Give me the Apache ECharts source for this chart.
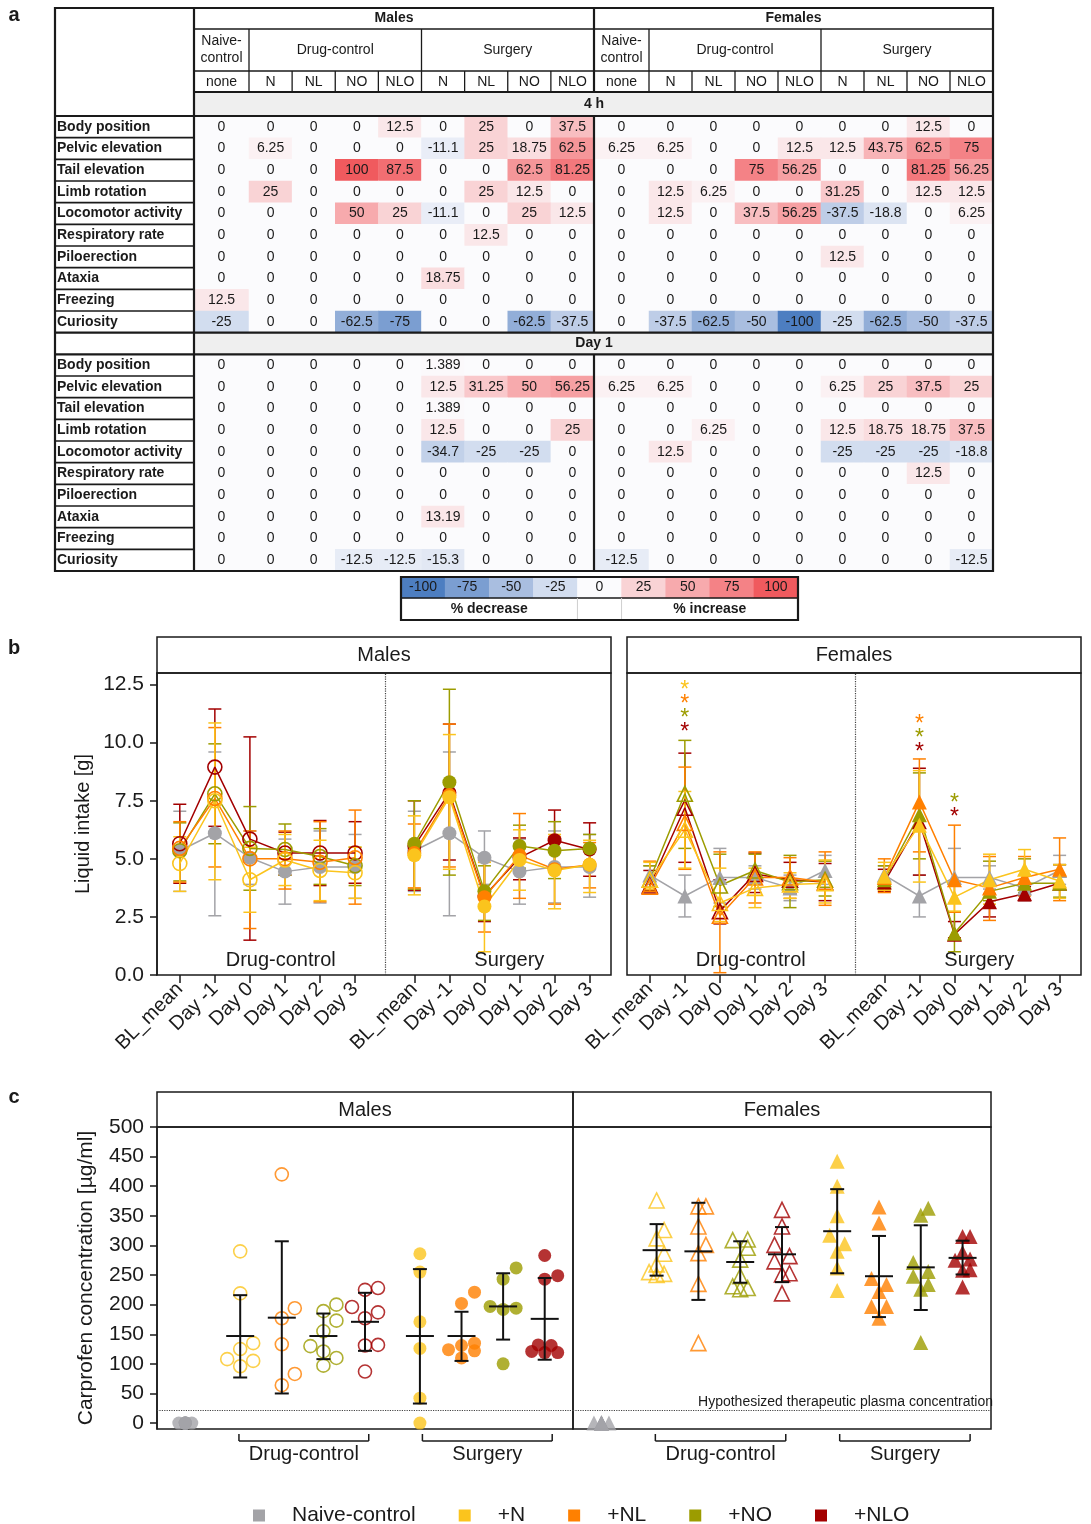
<!DOCTYPE html>
<html>
<head>
<meta charset="utf-8">
<script src="https://cdn.jsdelivr.net/npm/echarts@6/dist/echarts.min.js"></script>
<style>
  html, body { margin: 0; padding: 0; background: #fff; }
  #chart { width: 1091px; height: 1524px; }
</style>
</head>
<body>
<div id="chart"></div>
<script>
  /* ---------- panel a : behaviour scores (% change) ---------- */
  var rowNames = ['Body position', 'Pelvic elevation', 'Tail elevation', 'Limb rotation', 'Locomotor activity',
    'Respiratory rate', 'Piloerection', 'Ataxia', 'Freezing', 'Curiosity'];
  var colGroups = ['Naive-\ncontrol', 'Drug-control', 'Surgery'];
  var subCols = ['none', 'N', 'NL', 'NO', 'NLO', 'N', 'NL', 'NO', 'NLO'];

  var males4h = [
    [0, 0, 0, 0, 12.5, 0, 25, 0, 37.5],
    [0, 6.25, 0, 0, 0, -11.1, 25, 18.75, 62.5],
    [0, 0, 0, 100, 87.5, 0, 0, 62.5, 81.25],
    [0, 25, 0, 0, 0, 0, 25, 12.5, 0],
    [0, 0, 0, 50, 25, -11.1, 0, 25, 12.5],
    [0, 0, 0, 0, 0, 0, 12.5, 0, 0],
    [0, 0, 0, 0, 0, 0, 0, 0, 0],
    [0, 0, 0, 0, 0, 18.75, 0, 0, 0],
    [12.5, 0, 0, 0, 0, 0, 0, 0, 0],
    [-25, 0, 0, -62.5, -75, 0, 0, -62.5, -37.5]
  ];
  var females4h = [
    [0, 0, 0, 0, 0, 0, 0, 12.5, 0],
    [6.25, 6.25, 0, 0, 12.5, 12.5, 43.75, 62.5, 75],
    [0, 0, 0, 75, 56.25, 0, 0, 81.25, 56.25],
    [0, 12.5, 6.25, 0, 0, 31.25, 0, 12.5, 12.5],
    [0, 12.5, 0, 37.5, 56.25, -37.5, -18.8, 0, 6.25],
    [0, 0, 0, 0, 0, 0, 0, 0, 0],
    [0, 0, 0, 0, 0, 12.5, 0, 0, 0],
    [0, 0, 0, 0, 0, 0, 0, 0, 0],
    [0, 0, 0, 0, 0, 0, 0, 0, 0],
    [0, -37.5, -62.5, -50, -100, -25, -62.5, -50, -37.5]
  ];
  var malesDay1 = [
    [0, 0, 0, 0, 0, 1.389, 0, 0, 0],
    [0, 0, 0, 0, 0, 12.5, 31.25, 50, 56.25],
    [0, 0, 0, 0, 0, 1.389, 0, 0, 0],
    [0, 0, 0, 0, 0, 12.5, 0, 0, 25],
    [0, 0, 0, 0, 0, -34.7, -25, -25, 0],
    [0, 0, 0, 0, 0, 0, 0, 0, 0],
    [0, 0, 0, 0, 0, 0, 0, 0, 0],
    [0, 0, 0, 0, 0, 13.19, 0, 0, 0],
    [0, 0, 0, 0, 0, 0, 0, 0, 0],
    [0, 0, 0, -12.5, -12.5, -15.3, 0, 0, 0]
  ];
  var femalesDay1 = [
    [0, 0, 0, 0, 0, 0, 0, 0, 0],
    [6.25, 6.25, 0, 0, 0, 6.25, 25, 37.5, 25],
    [0, 0, 0, 0, 0, 0, 0, 0, 0],
    [0, 0, 6.25, 0, 0, 12.5, 18.75, 18.75, 37.5],
    [0, 12.5, 0, 0, 0, -25, -25, -25, -18.8],
    [0, 0, 0, 0, 0, 0, 0, 12.5, 0],
    [0, 0, 0, 0, 0, 0, 0, 0, 0],
    [0, 0, 0, 0, 0, 0, 0, 0, 0],
    [0, 0, 0, 0, 0, 0, 0, 0, 0],
    [-12.5, 0, 0, 0, 0, 0, 0, 0, -12.5]
  ];
  var keySteps = [-100, -75, -50, -25, 0, 25, 50, 75, 100];

  /* ---------- panel b : liquid intake [g], mean / lower / upper ---------- */
  var timePoints = ['BL_mean', 'Day -1', 'Day 0', 'Day 1', 'Day 2', 'Day 3'];
  var groups = ['Naive-control', '+N', '+NL', '+NO', '+NLO'];

  var maleDrugMean = [
    [5.35, 6.1, 5.05, 4.45, 4.65, 4.65],
    [4.8, 7.5, 4.1, 4.95, 4.5, 4.4],
    [5.45, 7.6, 5.0, 5.0, 4.85, 5.05],
    [5.35, 7.8, 5.45, 5.4, 5.1, 4.7],
    [5.65, 8.95, 5.85, 5.25, 5.25, 5.25]
  ];
  var maleDrugLow = [
    [3.6, 2.55, 3.9, 3.05, 3.1, 3.3],
    [3.6, 4.1, 2.7, 3.85, 3.2, 3.3],
    [4.0, 4.65, 2.0, 3.7, 3.15, 3.05],
    [4.05, 5.65, 3.65, 4.3, 3.9, 3.85],
    [3.95, 6.4, 1.5, 4.3, 3.85, 3.95]
  ];
  var maleDrugHigh = [
    [7.05, 9.6, 6.2, 5.85, 6.2, 6.05],
    [5.95, 10.85, 5.5, 6.05, 5.8, 5.5],
    [6.6, 10.65, 6.2, 6.2, 6.6, 7.1],
    [6.55, 9.95, 7.25, 6.5, 6.3, 5.5],
    [7.35, 11.45, 10.25, 6.15, 6.65, 6.6]
  ];
  var maleSurgMean = [
    [5.35, 6.1, 5.05, 4.45, 4.65, 4.65],
    [5.15, 7.65, 2.95, 4.95, 4.5, 4.75],
    [5.25, 7.75, 3.35, 5.15, 4.55, 4.75],
    [5.65, 8.3, 3.6, 5.55, 5.35, 5.45],
    [5.55, 7.85, 3.4, 5.05, 5.8, 5.4]
  ];
  var maleSurgLow = [
    [3.6, 2.55, 3.9, 3.05, 3.1, 3.35],
    [3.45, 4.55, 1.0, 3.65, 2.85, 3.55],
    [3.75, 4.65, 1.85, 3.3, 3.05, 3.75],
    [3.7, 4.3, 2.35, 4.6, 4.15, 4.8],
    [3.65, 4.95, 2.3, 4.1, 4.5, 4.25]
  ];
  var maleSurgHigh = [
    [7.05, 9.6, 6.2, 5.85, 6.2, 6.05],
    [6.85, 10.35, 4.85, 6.25, 6.05, 5.8],
    [6.5, 10.8, 4.85, 6.95, 5.95, 5.7],
    [7.5, 12.3, 4.7, 6.45, 6.6, 6.05],
    [7.5, 10.8, 4.95, 5.9, 7.1, 6.55]
  ];
  var femaleDrugMean = [
    [4.3, 3.4, 4.2, 4.2, 3.75, 4.5],
    [4.1, 6.25, 3.1, 3.75, 3.9, 3.95],
    [3.8, 6.55, 2.55, 4.2, 4.2, 4.0],
    [4.1, 7.8, 3.85, 4.5, 4.0, 4.1],
    [3.85, 7.2, 2.75, 4.35, 4.1, 4.0]
  ];
  var femaleDrugLow = [
    [3.9, 2.5, 3.1, 3.7, 3.2, 3.9],
    [3.7, 4.6, 2.3, 2.9, 3.3, 3.1],
    [3.6, 4.55, 0.1, 3.1, 3.3, 3.0],
    [3.6, 5.45, 2.95, 3.95, 2.9, 3.4],
    [3.65, 4.85, 2.2, 3.55, 3.5, 3.2]
  ];
  var femaleDrugHigh = [
    [4.7, 4.3, 5.45, 4.7, 4.3, 5.15],
    [4.85, 7.9, 4.6, 4.6, 4.4, 4.95],
    [4.9, 8.95, 5.3, 5.3, 5.05, 5.3],
    [4.7, 10.1, 5.2, 5.2, 5.15, 4.9],
    [4.5, 9.55, 4.1, 5.25, 4.85, 4.8]
  ];
  var femaleSurgMean = [
    [4.3, 3.4, 4.2, 4.2, 3.75, 4.5],
    [4.25, 6.45, 3.35, 4.1, 4.55, 4.05],
    [4.2, 7.45, 4.1, 3.75, 4.2, 4.55],
    [4.1, 6.9, 1.8, 3.6, 3.95, 3.95],
    [4.0, 6.6, 1.75, 3.15, 3.5, 3.95]
  ];
  var femaleSurgLow = [
    [3.9, 2.5, 3.1, 3.7, 3.2, 3.9],
    [3.65, 4.0, 2.75, 3.05, 3.65, 3.3],
    [3.55, 5.3, 2.7, 2.35, 3.4, 3.2],
    [3.7, 5.0, 1.0, 3.2, 3.55, 3.35],
    [3.6, 4.3, 1.6, 2.5, 3.2, 3.7]
  ];
  var femaleSurgHigh = [
    [4.7, 4.3, 5.45, 4.7, 4.3, 5.15],
    [4.85, 8.8, 4.0, 5.2, 5.4, 4.75],
    [5.0, 9.3, 6.45, 5.1, 5.1, 5.9],
    [4.7, 8.7, 2.7, 4.9, 5.0, 4.75],
    [4.55, 8.9, 2.3, 3.5, 3.8, 4.75]
  ];
  // [segment, time point, group, height of the star]
  var femaleStars = [
    [0, 1, 1, 12.45], [0, 1, 2, 11.85], [0, 1, 3, 11.25], [0, 1, 4, 10.65],
    [1, 1, 2, 11.0], [1, 1, 3, 10.4], [1, 1, 4, 9.8], [1, 2, 3, 7.6], [1, 2, 4, 7.0]
  ];

  /* ---------- panel c : carprofen concentration [µg/ml] ---------- */
  var maleNaiveConc = [0, 0, 0, 0, 0, 0, 0, 0];
  var maleDrugConc = [
    [290, 219, 135, 125, 108, 105, 96],
    [420, 194, 177, 133, 83, 64],
    [200, 189, 173, 155, 130, 121, 110, 97],
    [228, 225, 196, 187, 177, 132, 131, 87]
  ];
  var maleSurgConc = [
    [286, 255, 171, 126, 42, 0],
    [221, 202, 135, 131, 124, 122, 110],
    [262, 243, 197, 194, 192, 100],
    [283, 249, 243, 132, 131, 121, 119, 119]
  ];
  var femaleNaiveConc = [0, 0, 0, 0, 0, 0, 0, 0];
  var femaleDrugConc = [
    [376, 326, 312, 286, 268, 255, 252, 250],
    [366, 366, 332, 301, 287, 235, 135],
    [310, 309, 296, 276, 248, 231, 228, 226],
    [360, 332, 301, 282, 273, 253, 251, 219]
  ];
  var femaleSurgConc = [
    [442, 400, 350, 317, 303, 290, 262, 224],
    [365, 338, 244, 234, 222, 197, 197, 177],
    [363, 351, 271, 256, 248, 234, 226, 136],
    [315, 315, 288, 277, 275, 259, 258, 230]
  ];
  // [mean, lower, upper]
  var maleDrugStats = [[147, 77, 216], [178, 50, 307], [147, 108, 185], [171, 122, 220]];
  var maleSurgStats = [[147, 33, 260], [147, 105, 188], [197, 141, 253], [176, 107, 245]];
  var femaleDrugStats = [[292, 249, 336], [290, 208, 372], [272, 237, 307], [285, 238, 331]];
  var femaleSurgStats = [[324, 253, 395], [248, 179, 316], [263, 191, 334], [279, 251, 308]];
  var therapeuticLevel = 21;

  /* ---------- styling ---------- */
  var FONT = '"Liberation Sans", Arial, Helvetica, sans-serif';
  var INK = '#1a1a1a';
  var groupColors = ['#a3a3a7', '#fbc41d', '#ff8000', '#9c9c00', '#a30000'];
  var heatColors = ['#4d7ec1', '#a9bee0', '#fbfbfd', '#f7aaad', '#f05a5e'];

  var chart = echarts.init(document.getElementById('chart'), null, {width: 1091, height: 1524});
  var grids = [], xAxes = [], yAxes = [], series = [];
  var i, j;

  /* ===== panel a: table ===== */
  var T = {left: 55, labelR: 194, right: 993, top: 8, r1: 29, r2: 71, r3: 92, body: 116, bottom: 571};
  var rowH = (T.bottom - T.body) / 21;
  var mEdges = [194, 249], fEdges = [594, 649];
  for (i = 1; i <= 8; i++) {
    mEdges.push(249 + i * (594 - 249) / 8);
    fEdges.push(649 + i * (993 - 649) / 8);
  }
  var blocks = [[mEdges[0], mEdges[1]], [mEdges[1], mEdges[9]], [fEdges[0], fEdges[1]], [fEdges[1], fEdges[9]]];
  var rowIdx = [];
  for (i = 0; i < 21; i++) rowIdx.push(String(i));

  function cells(a4, a1, from, to) {
    var out = [];
    for (var r = 0; r < rowNames.length; r++) {
      for (var c = from; c < to; c++) {
        out.push([c - from, r, a4[r][c]]);
        out.push([c - from, r + 11, a1[r][c]]);
      }
    }
    return out;
  }

  blocks.forEach(function (b, k) {
    var n = k % 2 === 0 ? 1 : 8;
    var xs = [];
    for (var q = 0; q < n; q++) xs.push(String(q));
    grids.push({left: b[0], top: T.body, width: b[1] - b[0], height: T.bottom - T.body, outerBoundsMode: 'none'});
    xAxes.push({type: 'category', gridIndex: k, data: xs, show: false});
    yAxes.push({
      type: 'category', gridIndex: k, data: rowIdx, inverse: true, show: k === 0,
      axisLine: {show: false}, axisTick: {show: false}, splitLine: {show: false},
      axisLabel: {
        interval: 0, align: 'left', margin: 137, fontSize: 14, fontWeight: 'bold', color: INK,
        formatter: function (v) {
          var r = +v;
          return r < 10 ? rowNames[r] : (r === 10 ? '' : rowNames[r - 11]);
        }
      }
    });
    var male = k < 2;
    series.push({
      type: 'heatmap', xAxisIndex: k, yAxisIndex: k,
      data: cells(male ? males4h : females4h, male ? malesDay1 : femalesDay1, k % 2 === 0 ? 0 : 1, k % 2 === 0 ? 1 : 9),
      label: {show: true, fontSize: 14, color: INK, formatter: function (p) { return String(p.value[2]); }},
      itemStyle: {borderWidth: 0},
      emphasis: {disabled: true}
    });
  });

  // colour key
  var K = {l: 401, r: 798, t: 577, m: 598, b: 620};
  grids.push({left: K.l, top: K.t, width: K.r - K.l, height: K.m - K.t, outerBoundsMode: 'none'});
  xAxes.push({type: 'category', gridIndex: 4, data: keySteps.map(String), show: false});
  yAxes.push({type: 'category', gridIndex: 4, data: ['k'], show: false});
  series.push({
    type: 'heatmap', xAxisIndex: 4, yAxisIndex: 4,
    data: keySteps.map(function (v, q) { return [q, 0, v]; }),
    label: {show: true, fontSize: 14, color: INK, formatter: function (p) { return String(p.value[2]); }},
    itemStyle: {borderWidth: 0},
    emphasis: {disabled: true}
  });

  /* ===== panel b: liquid intake ===== */
  var B = {xMin: -0.65, xMax: 12.3, segGap: 6.69};
  var bTicks = [];
  for (i = 0; i < 12; i++) bTicks.push(i < 6 ? i : B.segGap + i - 6);
  function bx(seg, t) { return seg * B.segGap + t; }
  function bLabel(v) {
    for (var q = 0; q < bTicks.length; q++) if (Math.abs(bTicks[q] - v) < 0.01) return timePoints[q % 6];
    return '';
  }
  var yTicksB = [0, 2.5, 5, 7.5, 10, 12.5];

  [157, 627].forEach(function (left, s) {
    var gi = 5 + s;
    grids.push({left: left, top: 673, width: 454, height: 302, show: true, borderColor: INK, borderWidth: 1.5, outerBoundsMode: 'none'});
    xAxes.push({
      type: 'value', gridIndex: gi, min: B.xMin, max: B.xMax,
      axisLine: {show: false, onZero: false}, splitLine: {show: false},
      axisTick: {show: true, customValues: bTicks, length: 8, lineStyle: {color: INK, width: 1.5}},
      axisLabel: {customValues: bTicks, rotate: 45, fontSize: 20, color: INK, margin: 11, formatter: bLabel}
    });
    yAxes.push(s === 0 ? {
      type: 'value', gridIndex: gi, min: 0, max: 13, splitLine: {show: false},
      axisLine: {show: true, onZero: false, lineStyle: {color: INK, width: 1.5}},
      axisTick: {show: true, customValues: yTicksB, length: 7, lineStyle: {color: INK, width: 1.5}},
      axisLabel: {customValues: yTicksB, fontSize: 21, color: INK, margin: 13, formatter: function (v) { return v.toFixed(1); }},
      name: 'Liquid intake [g]', nameLocation: 'middle', nameGap: 64,
      nameTextStyle: {fontSize: 20, color: INK}
    } : {type: 'value', gridIndex: gi, min: 0, max: 13, show: false});
  });

  function errBars(name, data, color, gi, capW, lw, z) {
    return {
      type: 'custom', name: name, xAxisIndex: gi, yAxisIndex: gi, data: data, z: z,
      encode: {x: 0, y: [1, 2]}, silent: true,
      renderItem: function (params, api) {
        var x = api.value(0);
        var lo = api.coord([x, api.value(1)]), hi = api.coord([x, api.value(2)]);
        var h = capW / 2, st = {stroke: color, lineWidth: lw};
        return {
          type: 'group', children: [
            {type: 'line', shape: {x1: lo[0], y1: lo[1], x2: hi[0], y2: hi[1]}, style: st},
            {type: 'line', shape: {x1: lo[0] - h, y1: lo[1], x2: lo[0] + h, y2: lo[1]}, style: st},
            {type: 'line', shape: {x1: hi[0] - h, y1: hi[1], x2: hi[0] + h, y2: hi[1]}, style: st}
          ]
        };
      }
    };
  }

  function markerStyle(color, hollow) {
    return hollow ? {color: 'rgba(255,255,255,0)', borderColor: color, borderWidth: 1.6}
      : {color: color, borderColor: color, borderWidth: 0};
  }

  var bSets = [
    {gi: 5, sym: 'circle', size: 14, segs: [[maleDrugMean, maleDrugLow, maleDrugHigh], [maleSurgMean, maleSurgLow, maleSurgHigh]]},
    {gi: 6, sym: 'triangle', size: 15, segs: [[femaleDrugMean, femaleDrugLow, femaleDrugHigh], [femaleSurgMean, femaleSurgLow, femaleSurgHigh]]}
  ];
  var drawOrder = [0, 4, 3, 2, 1];
  bSets.forEach(function (set) {
    set.segs.forEach(function (sg, s) {
      drawOrder.forEach(function (g) {
        var color = groupColors[g];
        series.push(errBars(groups[g], timePoints.map(function (t, q) {
          return [bx(s, q), sg[1][g][q], sg[2][g][q]];
        }), color, set.gi, 13, 1.5, 2));
      });
      drawOrder.forEach(function (g) {
        var color = groupColors[g];
        var line = {
          type: 'line', name: groups[g], xAxisIndex: set.gi, yAxisIndex: set.gi, z: 3,
          data: timePoints.map(function (t, q) { return [bx(s, q), sg[0][g][q]]; }),
          symbol: set.sym, symbolSize: set.size, showSymbol: true,
          lineStyle: {color: color, width: 1.5},
          itemStyle: markerStyle(color, s === 0 && g !== 0),
          emphasis: {disabled: true}, silent: true
        };
        if (g === 0 && s === 0) {
          line.markLine = {
            silent: true, symbol: ['none', 'none'], label: {show: false},
            lineStyle: {type: 'dotted', color: '#444', width: 1.2},
            data: [{xAxis: (5 + B.segGap) / 2}]
          };
        }
        series.push(line);
      });
    });
  });

  series.push({
    type: 'custom', xAxisIndex: 6, yAxisIndex: 6, z: 4, silent: true,
    data: femaleStars.map(function (st) { return [bx(st[0], st[1]), st[3], st[2]]; }),
    encode: {x: 0, y: 1},
    renderItem: function (params, api) {
      var p = api.coord([api.value(0), api.value(1)]);
      return {
        type: 'text', x: p[0], y: p[1] + 5,
        style: {text: '*', fill: groupColors[api.value(2)], fontSize: 23, fontFamily: FONT, align: 'center', verticalAlign: 'middle'}
      };
    }
  });

  /* ===== panel c: carprofen ===== */
  var C = {yMin: -10, yMax: 500, xMax: 10, naiveX: 0.68, drugX: 2, surgX: 6.32};
  var yTicksC = [];
  for (i = 0; i <= 500; i += 50) yTicksC.push(i);

  function swarm(vals, xPx, yPx, diam, maxOff) {
    var order = vals.map(function (v, q) { return q; }).sort(function (a, b) { return vals[a] - vals[b]; });
    var placed = [], offs = [];
    var step = diam / 2;
    order.forEach(function (q) {
      var y = vals[q] * yPx, best = 0, bestD = -1;
      for (var k = 0; k < 30; k++) {
        var o = (k % 2 ? 1 : -1) * Math.ceil(k / 2) * step;
        if (Math.abs(o) > maxOff) break;
        var dmin = Infinity;
        placed.forEach(function (p) {
          var d = Math.sqrt((p[0] - o) * (p[0] - o) + (p[1] - y) * (p[1] - y));
          if (d < dmin) dmin = d;
        });
        if (dmin >= diam) { best = o; break; }
        if (dmin > bestD) { bestD = dmin; best = o; }
      }
      placed.push([best, y]);
      offs[q] = best / xPx;
    });
    return offs;
  }

  var cSets = [
    {gi: 7, left: 157, width: 416, sym: 'circle', size: 13, naive: maleNaiveConc,
      segs: [[maleDrugConc, maleDrugStats], [maleSurgConc, maleSurgStats]]},
    {gi: 8, left: 573, width: 418, sym: 'triangle', size: 15, naive: femaleNaiveConc,
      segs: [[femaleDrugConc, femaleDrugStats], [femaleSurgConc, femaleSurgStats]]}
  ];

  cSets.forEach(function (set, s) {
    grids.push({left: set.left, top: 1127, width: set.width, height: 302, show: true, borderColor: INK, borderWidth: 1.5, outerBoundsMode: 'none'});
    xAxes.push({type: 'value', gridIndex: set.gi, min: 0, max: C.xMax, show: false});
    yAxes.push(s === 0 ? {
      type: 'value', gridIndex: set.gi, min: C.yMin, max: C.yMax, splitLine: {show: false},
      axisLine: {show: true, onZero: false, lineStyle: {color: INK, width: 1.5}},
      axisTick: {show: true, customValues: yTicksC, length: 7, lineStyle: {color: INK, width: 1.5}},
      axisLabel: {customValues: yTicksC, fontSize: 21, color: INK, margin: 13},
      name: 'Carprofen concentration [µg/ml]', nameLocation: 'middle', nameGap: 60,
      nameTextStyle: {fontSize: 21, color: INK}
    } : {type: 'value', gridIndex: set.gi, min: C.yMin, max: C.yMax, show: false});

    var xPx = set.width / C.xMax, yPx = 302 / (C.yMax - C.yMin);
    var diam = set.size;

    var nOff = swarm(set.naive, xPx, yPx, diam, 8);
    series.push({
      type: 'scatter', name: groups[0], xAxisIndex: set.gi, yAxisIndex: set.gi, z: 3, silent: true,
      symbol: set.sym, symbolSize: set.size,
      itemStyle: markerStyle(groupColors[0], false),
      data: set.naive.map(function (v, q) { return [C.naiveX + nOff[q], v]; }),
      markLine: {
        silent: true, symbol: ['none', 'none'],
        lineStyle: {type: 'dotted', color: '#444', width: 1.2},
        label: s === 1 ? {
          show: true, position: 'insideEndTop', formatter: 'Hypothesized therapeutic plasma concentration',
          fontSize: 14, color: INK, distance: [-2, 2]
        } : {show: false},
        data: [{yAxis: therapeuticLevel}]
      }
    });

    set.segs.forEach(function (sg, seg) {
      var x0 = seg === 0 ? C.drugX : C.surgX;
      sg[0].forEach(function (vals, g) {
        var off = swarm(vals, xPx, yPx, diam, 14);
        series.push({
          type: 'scatter', name: groups[g + 1], xAxisIndex: set.gi, yAxisIndex: set.gi, z: 3, silent: true,
          symbol: set.sym, symbolSize: set.size,
          itemStyle: markerStyle(groupColors[g + 1], seg === 0),
          data: vals.map(function (v, q) { return [x0 + g + off[q], v]; })
        });
      });
      series.push({
        type: 'custom', xAxisIndex: set.gi, yAxisIndex: set.gi, z: 5, silent: true,
        data: sg[1].map(function (st, g) { return [x0 + g, st[0], st[1], st[2]]; }),
        encode: {x: 0, y: [1, 2, 3]},
        renderItem: function (params, api) {
          var x = api.value(0);
          var m = api.coord([x, api.value(1)]), lo = api.coord([x, api.value(2)]), hi = api.coord([x, api.value(3)]);
          var st = {stroke: '#111', lineWidth: 2};
          return {
            type: 'group', children: [
              {type: 'line', shape: {x1: lo[0], y1: lo[1], x2: hi[0], y2: hi[1]}, style: st},
              {type: 'line', shape: {x1: lo[0] - 7, y1: lo[1], x2: lo[0] + 7, y2: lo[1]}, style: st},
              {type: 'line', shape: {x1: hi[0] - 7, y1: hi[1], x2: hi[0] + 7, y2: hi[1]}, style: st},
              {type: 'line', shape: {x1: m[0] - 14, y1: m[1], x2: m[0] + 14, y2: m[1]}, style: st}
            ]
          };
        }
      });
    });
  });

  var option = {
    animation: false,
    backgroundColor: '#fff',
    textStyle: {fontFamily: FONT},
    grid: grids,
    xAxis: xAxes,
    yAxis: yAxes,
    visualMap: {
      type: 'continuous', show: false, min: -100, max: 100, dimension: 2,
      seriesIndex: [0, 1, 2, 3, 4], inRange: {color: heatColors}
    },
    legend: {
      left: 248, top: 1500, itemWidth: 12, itemHeight: 12, itemGap: 43, selectedMode: false,
      textStyle: {fontSize: 21, color: INK, padding: [0, 0, 0, 22]},
      data: groups.map(function (g, q) {
        return {name: g, icon: 'rect', itemStyle: {color: groupColors[q], borderWidth: 0}};
      })
    },
    series: series
  };
  chart.setOption(option);

  /* ===== table frame, headers and panel decorations ===== */
  var G = [];
  function L(x1, y1, x2, y2, w, c) {
    G.push({type: 'line', silent: true, z: 100, shape: {x1: x1, y1: y1, x2: x2, y2: y2}, style: {stroke: c || INK, lineWidth: w || 1.5}});
  }
  function box(x, y, w, h, lw, fill, z) {
    G.push({type: 'rect', silent: true, z: z || 100, shape: {x: x, y: y, width: w, height: h},
      style: {fill: fill || 'none', stroke: lw ? INK : 'none', lineWidth: lw || 0}});
  }
  function TX(x, y, s, size, weight, align) {
    G.push({type: 'text', silent: true, z: 101, x: x, y: y, style: {
      text: s, fill: INK, fontSize: size || 14, fontWeight: weight || 'normal', fontFamily: FONT,
      align: align || 'center', verticalAlign: 'middle', lineHeight: Math.round((size || 14) * 1.2)
    }});
  }

  var d1Top = T.body + 10 * rowH, d1Bot = T.body + 11 * rowH;
  box(194, T.r3, 993 - 194, T.body - T.r3, 0, '#efefef', 1);
  box(194, d1Top, 993 - 194, d1Bot - d1Top, 0, '#efefef', 1);
  TX(594, (T.r3 + T.body) / 2, '4 h', 14, 'bold');
  TX(594, (d1Top + d1Bot) / 2, 'Day 1', 14, 'bold');
  TX((194 + 594) / 2, (T.top + T.r1) / 2, 'Males', 14, 'bold');
  TX((594 + 993) / 2, (T.top + T.r1) / 2, 'Females', 14, 'bold');
  [mEdges, fEdges].forEach(function (E) {
    TX((E[0] + E[1]) / 2, (T.r1 + T.r2) / 2, colGroups[0]);
    TX((E[1] + E[5]) / 2, (T.r1 + T.r2) / 2, colGroups[1]);
    TX((E[5] + E[9]) / 2, (T.r1 + T.r2) / 2, colGroups[2]);
    for (var q = 0; q < 9; q++) TX((E[q] + E[q + 1]) / 2, (T.r2 + T.r3) / 2 + 1, subCols[q]);
    L(E[1], T.r1, E[1], T.r3, 1.3);
    L(E[5], T.r1, E[5], T.r3, 1.3);
    for (q = 2; q < 9; q++) if (q !== 5) L(E[q], T.r2, E[q], T.r3, 1.3);
  });
  L(194, T.r1, 993, T.r1, 1.3);
  L(194, T.r2, 993, T.r2, 1.3);
  L(194, T.r3, 993, T.r3, 2.2);
  L(55, T.body, 993, T.body, 2.2);
  L(55, d1Top, 993, d1Top, 2.2);
  L(55, d1Bot, 993, d1Bot, 2.2);
  for (i = 1; i < 21; i++) if (i !== 10 && i !== 11) L(55, T.body + i * rowH, 194, T.body + i * rowH, 1.6);
  L(194, T.top, 194, T.bottom, 2.2);
  // sex divider is interrupted by the time banners
  L(594, T.top, 594, T.r3, 2.2);
  L(594, T.body, 594, d1Top, 2.2);
  L(594, d1Bot, 594, T.bottom, 2.2);
  box(55, T.top, 993 - 55, T.bottom - T.top, 2.2);

  var kw = (K.r - K.l) / 9;
  L(K.l, K.m, K.r, K.m, 1.3);
  L(K.l + 4 * kw, K.m, K.l + 4 * kw, K.b, 1, '#cfcfcf');
  L(K.l + 5 * kw, K.m, K.l + 5 * kw, K.b, 1, '#cfcfcf');
  TX(K.l + 2 * kw, (K.m + K.b) / 2, '% decrease', 14, 'bold');
  TX(K.l + 7 * kw, (K.m + K.b) / 2, '% increase', 14, 'bold');
  box(K.l, K.t, K.r - K.l, K.b - K.t, 2.2);

  // panel b headers and segment names
  [[157, 'Males', 5], [627, 'Females', 6]].forEach(function (h) {
    box(h[0], 637, 454, 36, 1.5);
    TX(h[0] + 227, 655, h[1], 20);
    TX(chart.convertToPixel({gridIndex: h[2]}, [2.88, 0])[0], 960, 'Drug-control', 20);
    TX(chart.convertToPixel({gridIndex: h[2]}, [9.4, 0])[0], 960, 'Surgery', 20);
  });

  // panel c headers and brackets
  cSets.forEach(function (set, s) {
    box(set.left, 1092, set.width, 35, 1.5);
    TX(set.left + set.width / 2, 1110, s === 0 ? 'Males' : 'Females', 20);
    [[C.drugX - 0.03, 'Drug-control'], [C.surgX + 0.06, 'Surgery']].forEach(function (bk) {
      var x1 = chart.convertToPixel({gridIndex: set.gi}, [bk[0], 0])[0];
      var x2 = chart.convertToPixel({gridIndex: set.gi}, [bk[0] + 3.12, 0])[0];
      L(x1, 1441, x2, 1441, 1.5);
      L(x1, 1434, x1, 1441, 1.5);
      L(x2, 1434, x2, 1441, 1.5);
      TX((x1 + x2) / 2, 1454, bk[1], 20);
    });
  });

  TX(14, 15, 'a', 20, 'bold');
  TX(14, 648, 'b', 20, 'bold');
  TX(14, 1097, 'c', 20, 'bold');

  chart.setOption({graphic: G});
</script>
</body>
</html>
